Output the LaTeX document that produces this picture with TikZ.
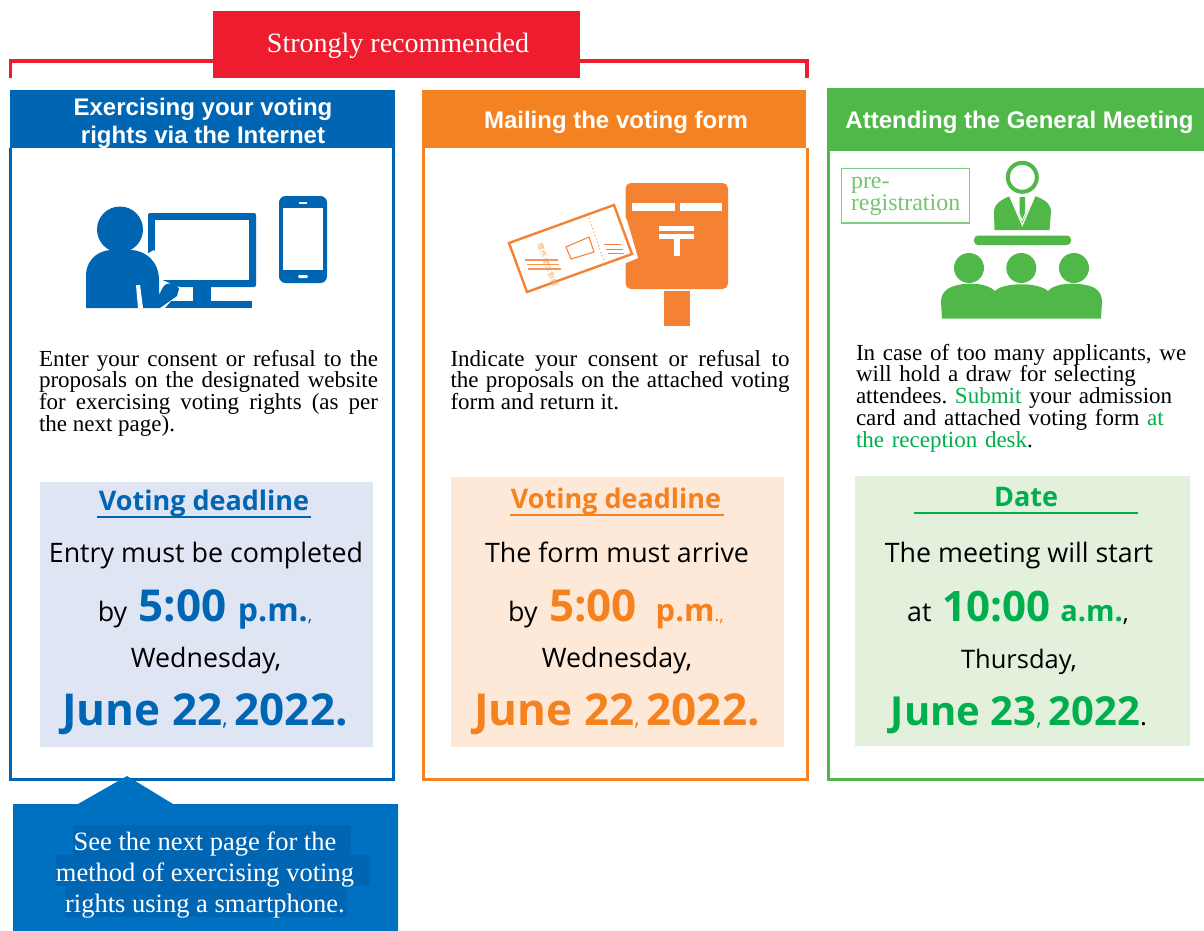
\documentclass[tikz,border=0pt]{standalone}
\usepackage{fontspec}
\setmainfont{Liberation Serif}
\newfontfamily\hdfont{Liberation Sans}
\newfontfamily\dlfont{Open Sans}
\newfontfamily\cjkfont{Noto Sans CJK JP}
\definecolor{cblue}{HTML}{0066B3}
\definecolor{corange}{HTML}{F58220}
\definecolor{cgreen}{HTML}{50B848}
\definecolor{tgreen}{HTML}{00AE4D}
\definecolor{cred}{HTML}{ED1C2E}
\definecolor{ccall}{HTML}{0070C0}
\definecolor{bgblue}{HTML}{E0E5F3}
\definecolor{bgorange}{HTML}{FEE8D8}
\definecolor{bggreen}{HTML}{E2F0DC}
\definecolor{cbox}{HTML}{F58233}
\definecolor{cpre}{HTML}{7FCB7F}
\newcommand{\fs}[2]{\fontsize{\dimexpr#1pt*3/4\relax}{\dimexpr#2pt*3/4\relax}\selectfont}
\tikzset{
  txt/.style={inner sep=0pt,outer sep=0pt},
  head/.style={txt,text=white,align=center,font=\hdfont\bfseries\fs{24}{28}},
  body/.style={txt,anchor=north west,align=justify,font=\frenchspacing\fs{23}{21.8}},
  dl/.style={txt,anchor=base,font=\dlfont\fs{26.8}{30}},
  dlh/.style={txt,anchor=base,font=\dlfont\bfseries\fs{27}{30}},
  call/.style={txt,anchor=base,text=white,font=\fs{26.5}{30}},
  frm/.style={line width=3pt*3/4}
}
\begin{document}
\begin{tikzpicture}[x=.75pt,y=-.75pt]
\useasboundingbox (0,0) rectangle (1204,931);
\fill[white] (0,0) rectangle (1204,931);
% bracket
\draw[cred,line width=2.4pt] (10.5,78) |- (807,61) -- (807,78);
\fill[cred] (213,11) rectangle (580,78);
\node[txt,text=white,anchor=base,font=\fs{28}{30}] (strong) at (398,52.5) {Strongly recommended};
% frames
\draw[cblue,frm] (10.5,148) -- (10.5,779.5) -- (393.5,779.5) -- (393.5,148);
\fill[cblue] (10,90) rectangle (395,148);
\draw[corange,frm] (423.5,148) -- (423.5,779.5) -- (807.5,779.5) -- (807.5,148);
\fill[corange] (422,90) rectangle (806,148);
\draw[cgreen,frm] (1204,779.5) -- (828.5,779.5) -- (828.5,151);
\fill[cgreen] (827,88) rectangle (1204,151);
\node[head] (h1) at (203,123) {Exercising your voting\\rights via the Internet};
\node[head] (h2) at (616,122) {Mailing the voting form};
\node[head] (h3) at (1019.5,122) {Attending the General Meeting};
% blue icons
\begin{scope}[cblue]
\fill[rounded corners=1.5pt] (148,213) rectangle (256,287);
\fill[white] (155,220) rectangle (249,280);
\fill (193,287) rectangle (211,303);
\fill (165,301) rectangle (252,308);
\fill[white] (179,296) rectangle (193,301);
\fill[white] (211,296) rectangle (224,301);
\fill[white] (154,250) -- (162,260) -- (162,280) -- (182,288) -- (165,308) -- (132,308) -- (136,260) -- cycle;
\fill (120,229.5) circle[radius=23];
\fill (86,308) -- (86,274) .. controls (87,258) and (100,250) .. (112,250) -- (130,250) .. controls (146,250) and (159,262) .. (159,280) -- (159,295) -- (163,287) .. controls (168,281) and (176,282) .. (179,289) -- (177,296) -- (160,308) -- cycle;
\fill[white] (136,285) -- (140,285) -- (143,308) -- (138,308) -- cycle;
\fill[rounded corners=5pt] (279,196) rectangle (327,283);
\fill[white] (283,208) rectangle (323,270);
\fill[white] (299,202) rectangle (307,204);
\fill[white,rounded corners=1pt] (298,275) rectangle (308,278);
\end{scope}
% orange icons
\fill[cbox,rounded corners=4pt] (625.5,183) rectangle (728,289);
\fill[white] (632,203) rectangle (674.5,211);
\fill[white] (680,203) rectangle (722,211);
\fill[white] (659,226) rectangle (694,231);
\fill[white] (659,234) rectangle (694,239);
\fill[white] (674,239) rectangle (680,256);
\fill[cbox] (664,291) rectangle (690,326);
\fill[white] (509,243) -- (614,205) -- (627,220) -- (638,258) -- (626,263) -- (527,292) -- cycle;
\draw[cbox,line width=1.8pt] (509,243) -- (614,205) -- (632,254) -- (527,292) -- cycle;
\draw[cbox,line width=.8pt] (566,247) -- (589,237) -- (594,252) -- (571,259) -- cycle;
\draw[cbox,line width=.7pt,dotted] (589,218) -- (604,261);
\draw[cbox,line width=.7pt] (604,244) -- (621,244) (606,249) -- (623,249) (608,253) -- (624,253);
\node[txt,rotate=20,text=corange!70,align=center,font=\cjkfont\fs{7}{7.7}] (kanji) at (547.5,265) {議\\決\\権\\行\\使\\書};
\draw[cbox!85,line width=.8pt] (525,260) -- (558,260) (527,264.5) -- (559,264.5) (528,269) -- (561,269);
% green icons
\draw[cgreen,line width=3pt] (1022.3,177.3) circle[radius=14.5];
\fill[cgreen] (994.5,230) -- (994,212) .. controls (994,203) and (1003,199) .. (1010,196) -- (1022,222) -- (1035,196) .. controls (1043,199) and (1051,203) .. (1051,212) -- (1049.5,230) -- cycle;
\draw[white,line width=.9pt] (1009.5,195.5) -- (1022.3,225) -- (1035,195.5);
\fill[cgreen] (1019.5,197) -- (1025,197) -- (1025,213) -- (1022.3,219) -- (1019.5,213) -- cycle;
\fill[cgreen,rounded corners=3pt] (974,235.5) rectangle (1071,245);
\foreach \cx in {969,1021.3,1074}{
  \fill[cgreen] (\cx,268) circle[radius=15];
}
\fill[cgreen] (942,318.5) -- (941,302) .. controls (941,292) and (948,287) .. (958,285) .. controls (966,283) and (986,282) .. (995,291) .. controls (1004,282) and (1038,282) .. (1048,291) .. controls (1056,282) and (1076,283) .. (1086,285) .. controls (1096,287) and (1102,292) .. (1102,302) -- (1101,318.5) -- cycle;
\draw[cpre,line width=.9pt] (841.5,168.5) rectangle (969.5,223);
\node[txt,anchor=north west,align=left,text=cgreen!80,font=\fs{24}{18.5}] (pre) at (851,177) {pre-\\registration};
% body text
\node[body,text width=254.25pt] (b1) at (39,350) {Enter your consent or refusal to the\linebreak proposals on the designated website\linebreak for exercising voting rights (as per\linebreak the next page).};
\node[body,text width=254.25pt] (b2) at (450.5,350) {Indicate your consent or refusal to\linebreak the proposals on the attached voting\linebreak form and return it.};
\node[body,text width=253pt,align=left] (b3) at (856,344) {In case of too many applicants, we\\will hold a draw for selecting\\attendees. \textcolor{tgreen}{Submit} your admission\\card and attached voting form \textcolor{tgreen}{at}\\\textcolor{tgreen}{the reception desk}.};
% deadline panels
\fill[bgblue] (40,482) rectangle (373,747);
\fill[bgorange] (451,477) rectangle (784,747);
\fill[bggreen] (855,476) rectangle (1190,746);
% panel 1
\node[dlh,text=cblue] (d1a) at (204,510) {Voting deadline};
\draw[cblue,line width=1.5pt] (97,516.5) -- (311,516.5);
\node[dl] (d1b) at (206,562) {Entry must be completed};
\node[dl] (d1c) at (205,621) {by \,{\color{cblue}\bfseries\fs{44}{44}5:00 \fs{32}{32}p.m.\mdseries\fs{18}{18},}};
\node[dl] (d1d) at (206,667) {Wednesday,};
\node[dl,text=cblue] (d1e) at (205,725) {{\bfseries\fs{44}{44}June 22}{\fs{22}{22},} {\bfseries\fs{44}{44}2022.}};
% panel 2
\node[dlh,text=corange] (d2a) at (616,508) {Voting deadline};
\draw[corange,line width=1.5pt] (510,515) -- (724,515);
\node[dl] (d2b) at (617,562) {The form must arrive};
\node[dl] (d2c) at (616,621) {by \,{\color{corange}\bfseries\fs{44}{44}5:00\, \fs{31}{31}p.m\mdseries\fs{18}{18}.,}};
\node[dl] (d2d) at (617,667) {Wednesday,};
\node[dl,text=corange] (d2e) at (617,725) {{\bfseries\fs{44}{44}June 22}{\fs{22}{22},} {\bfseries\fs{44}{44}2022.}};
% panel 3
\node[dlh,text=tgreen] (d3a) at (1026,506) {Date};
\draw[tgreen,line width=1.5pt] (914,513) -- (1138,513);
\node[dl] (d3b) at (1019,562) {The meeting will start};
\node[dl] (d3c) at (1018,621) {at \,{\color{tgreen}\bfseries\fs{42}{42}10:00\hspace{-1pt} \fs{29}{29}a.m.}{\fs{24}{24},}};
\node[dl,font=\dlfont\fs{25.5}{30}] (d3d) at (1019,668) {Thursday,};
\node[dl,text=tgreen] (d3e) at (1019,725) {{\bfseries\fs{40}{40}June 23}{\fs{22}{22},} {\bfseries\fs{40}{40}2022}{\color{black}\fs{26}{26}.}};
% callout
\fill[ccall] (13,804) -- (78,804) -- (127,776) -- (173,804) -- (398,804) -- (398,931) -- (13,931) -- cycle;
\fill[cblue] (73,825) rectangle (351,855);
\fill[cblue] (56,855) rectangle (370,886);
\fill[cblue] (65,886) rectangle (347,917);
\node[call] (c1) at (205,850.5) {See the next page for the};
\node[call] (c2) at (205,881) {method of exercising voting};
\node[call] (c3) at (205,912) {rights using a smartphone.};
\end{tikzpicture}
\end{document}
